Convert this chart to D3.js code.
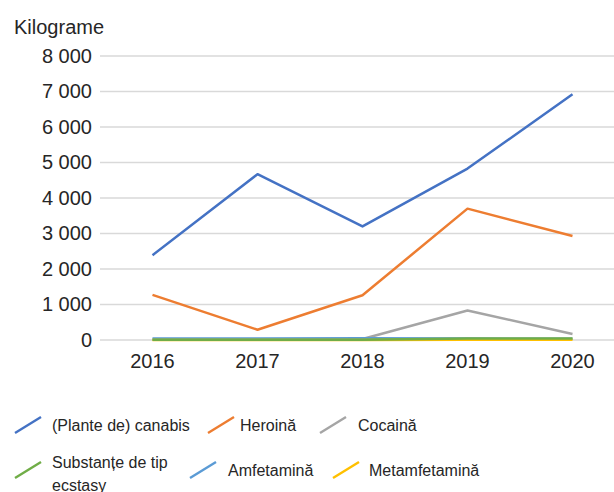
<!DOCTYPE html>
<html>
<head>
<meta charset="utf-8">
<script src="https://cdn.jsdelivr.net/npm/d3@7"></script>
<style>
  body { margin: 0; background: #fff; }
  text { font-family: "Liberation Sans", Arial, sans-serif; fill: #262626; }
</style>
</head>
<body>
<svg id="chart" width="614" height="492"></svg>
<script>
var years = ["2016", "2017", "2018", "2019", "2020"];
var yTicks = [0, 1000, 2000, 3000, 4000, 5000, 6000, 7000, 8000];

var canabis = [2390, 4670, 3200, 4830, 6920];
var heroina = [1270, 290, 1260, 3700, 2930];
var cocaina = [10, 20, 30, 830, 170];
var ecstasy = [5, 5, 10, 40, 40];
var amfetamina = [40, 45, 50, 40, 35];
var metamfetamina = [1, 2, 3, 5, 5];

var seriesNames = ["(Plante de) canabis", "Heroină", "Cocaină", "Substanțe de tip ecstasy", "Amfetamină", "Metamfetamină"];
var seriesValues = [canabis, heroina, cocaina, ecstasy, amfetamina, metamfetamina];
var colors = ["#4472C4", "#ED7D31", "#A5A5A5", "#70AD47", "#5B9BD5", "#FFC000"];
// order in which the lines are stacked (last on top)
var drawOrder = [0, 1, 2, 4, 5, 3];

var svg = d3.select("#chart");

// scales
var x = d3.scaleBand().domain(years).range([100, 625]);
var y = d3.scaleLinear().domain([0, 8000]).range([340, 56]);

var fmt = function(d) { return d3.format(",")(d).replace(/,/g, " "); };

// gridlines
svg.append("g")
  .selectAll("line")
  .data(yTicks)
  .enter().append("line")
  .attr("x1", 100)
  .attr("x2", 625)
  .attr("y1", d => y(d))
  .attr("y2", d => y(d))
  .style("stroke", "#d9d9d9")
  .style("stroke-width", 1.5);

// y axis labels
var yAxis = d3.axisLeft(y).tickValues(yTicks).tickFormat(fmt).tickSize(0).tickPadding(8);
svg.append("g")
  .attr("transform", "translate(100,0)")
  .call(yAxis)
  .call(g => g.select(".domain").remove())
  .selectAll("text")
  .style("font-size", "20px")
  .style("font-family", "'Liberation Sans', Arial, sans-serif")
  .style("fill", "#262626");

// x axis labels
var xAxis = d3.axisBottom(x).tickSize(0).tickPadding(14);
svg.append("g")
  .attr("transform", "translate(0,340)")
  .call(xAxis)
  .call(g => g.select(".domain").remove())
  .selectAll("text")
  .style("font-size", "20px")
  .style("font-family", "'Liberation Sans', Arial, sans-serif")
  .style("fill", "#262626");

// axis title
svg.append("text")
  .attr("x", 14)
  .attr("y", 34)
  .style("font-size", "20px")
  .text("Kilograme");

// lines
var line = d3.line()
  .x((d, i) => x(years[i]) + x.bandwidth() / 2)
  .y(d => y(d));

svg.append("g")
  .selectAll("path")
  .data(drawOrder)
  .enter().append("path")
  .attr("d", k => line(seriesValues[k]))
  .style("fill", "none")
  .style("stroke", k => colors[k])
  .style("stroke-width", 2.5)
  .style("stroke-linejoin", "round");

// legend
var legendPos = [
  [15, 425], [208, 425], [320, 425],
  [15, 470], [190, 470], [333, 470]
];
var legendTextDx = [37, 32, 38, 37, 38, 36];

var legend = svg.append("g")
  .selectAll("g")
  .data(seriesNames)
  .enter().append("g")
  .attr("transform", (d, i) => "translate(" + legendPos[i][0] + "," + legendPos[i][1] + ")");

legend.append("line")
  .attr("x1", 0).attr("y1", 8)
  .attr("x2", 26).attr("y2", -8)
  .style("stroke", (d, i) => colors[i])
  .style("stroke-width", 2.5);

legend.append("text")
  .attr("x", (d, i) => legendTextDx[i])
  .attr("y", 0)
  .attr("dy", "0.35em")
  .style("font-size", "16px")
  .each(function(d) {
    var t = d3.select(this);
    if (d === "Substanțe de tip ecstasy") {
      t.attr("y", -8);
      t.append("tspan").attr("x", 37).text("Substanțe de tip");
      t.append("tspan").attr("x", 37).attr("dy", "1.45em").text("ecstasy");
    } else {
      t.text(d);
    }
  });
</script>
</body>
</html>
